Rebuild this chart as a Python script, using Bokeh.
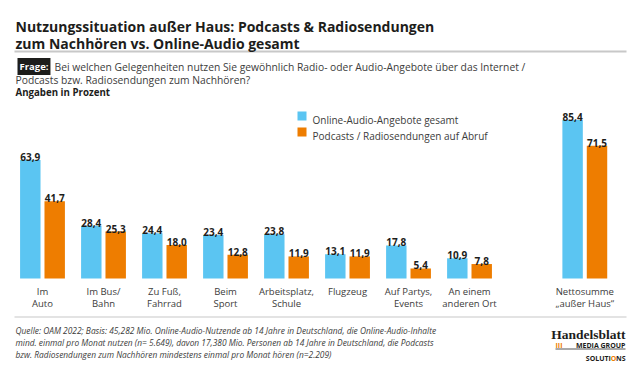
import numpy as np
from bokeh.plotting import figure
from bokeh.models import ColumnDataSource, Range1d, Label, BoxAnnotation
from bokeh.transform import dodge
from bokeh.core.properties import value
from bokeh.embed import file_html
from bokeh.resources import INLINE

# ---------------- data ----------------
categories_line1 = ["Im", "Im Bus/", "Zu Fuß,", "Beim", "Arbeitsplatz,", "Flugzeug",
                    "Auf Partys,", "An einem", "Nettosumme"]
categories_line2 = ["Auto", "Bahn", "Fahrrad", "Sport", "Schule", "",
                    "Events", "anderen Ort", "„außer Haus“"]
online_audio = [63.9, 28.4, 24.4, 23.4, 23.8, 13.1, 17.8, 10.9, 85.4]
podcasts = [41.7, 25.3, 18.0, 12.8, 11.9, 11.9, 5.4, 7.8, 71.5]
series_names = ["Online-Audio-Angebote gesamt", "Podcasts / Radiosendungen auf Abruf"]

title_lines = ["Nutzungssituation außer Haus: Podcasts & Radiosendungen",
               "zum Nachhören vs. Online-Audio gesamt"]
question_lines = ["Bei welchen Gelegenheiten nutzen Sie gewöhnlich Radio- oder Audio-Angebote über das Internet /",
                  "Podcasts bzw. Radiosendungen zum Nachhören?"]
unit_text = "Angaben in Prozent"
source_lines = ["Quelle: OAM 2022; Basis: 45,282 Mio. Online-Audio-Nutzende ab 14 Jahre in Deutschland, die Online-Audio-Inhalte",
                "mind. einmal pro Monat nutzen (n= 5.649), davon 17,380 Mio. Personen ab 14 Jahre in Deutschland, die Podcasts",
                "bzw. Radiosendungen zum Nachhören mindestens einmal pro Monat hören (n=2.209)"]

# ---------------- style ----------------
BLUE = "#5BC5F2"
ORANGE = "#EE7D00"
DARK = "#1d1d1b"
TEXT = "#3c3c3b"
GREY = "#c8c8c8"
FONT = "Open Sans"
NET_GAP = 0.89

W, H = 640, 374

def fmt(v):
    return f"{v:.1f}".replace(".", ",")

xpos = np.arange(len(online_audio), dtype=float)
xpos[-1] += NET_GAP

src = ColumnDataSource(dict(
    x=xpos,
    online=online_audio,
    pod=podcasts,
    online_lbl=[fmt(v) for v in online_audio],
    pod_lbl=[fmt(v) for v in podcasts],
    c1=categories_line1,
    c2=categories_line2,
    zero=[0] * len(online_audio),
))

p = figure(width=W, height=H, output_backend="svg", toolbar_location=None,
           title=None, x_axis_type=None, y_axis_type=None,
           x_range=Range1d(-0.6885, 9.803), y_range=Range1d(-51.75, 149.87),
           min_border=0, min_border_left=0, min_border_right=0,
           min_border_top=0, min_border_bottom=0)
p.outline_line_color = None
p.background_fill_color = "white"
p.border_fill_color = "white"

BW = 0.335
p.vbar(x=dodge("x", -0.2, range=p.x_range), top="online", bottom=0, width=BW,
       source=src, fill_color=BLUE, line_color=None)
p.vbar(x=dodge("x", 0.2, range=p.x_range), top="pod", bottom=0, width=BW,
       source=src, fill_color=ORANGE, line_color=None)

p.text(x=dodge("x", -0.2, range=p.x_range), y="online", text="online_lbl", source=src,
       text_font=value(FONT), text_font_size="10px", text_font_style="bold",
       text_color=DARK, text_align="center", text_baseline="alphabetic", y_offset=-3)
p.text(x=dodge("x", 0.2, range=p.x_range), y="pod", text="pod_lbl", source=src,
       text_font=value(FONT), text_font_size="10px", text_font_style="bold",
       text_color=DARK, text_align="center", text_baseline="alphabetic", y_offset=-3)

p.text(x="x", y="zero", text="c1", source=src, text_font=value(FONT),
       text_font_size="9.5px", text_color=TEXT, text_align="center",
       text_baseline="alphabetic", y_offset=13)
p.text(x="x", y="zero", text="c2", source=src, text_font=value(FONT),
       text_font_size="9.5px", text_color=TEXT, text_align="center",
       text_baseline="alphabetic", y_offset=25)

# --------- helpers for page-pixel layout of annotations ---------
def lab(text, px, py, size, style="normal", color=TEXT, align="left", font=FONT, bg=None):
    kw = {}
    if bg is not None:
        kw = dict(background_fill_color=bg, background_fill_alpha=1.0, padding=2)
    p.add_layout(Label(x=px, y=H - py, x_units="screen", y_units="screen",
                       text=text, text_font=font, text_font_size=f"{size}px",
                       text_font_style=style, text_color=color, text_align=align,
                       text_baseline="alphabetic", **kw))

def box(x0, y0, x1, y1, color):
    p.add_layout(BoxAnnotation(left=x0, right=x1, top=H - y0, bottom=H - y1,
                               left_units="screen", right_units="screen",
                               top_units="screen", bottom_units="screen",
                               fill_color=color, fill_alpha=1.0, line_color=None,
                               line_alpha=0, level="underlay"))

# title
lab(title_lines[0], 15, 26, 14, "bold", DARK)
lab(title_lines[1], 15, 43, 14, "bold", DARK)
box(14, 50, 626, 52, GREY)

# question
lab("Frage:", 17, 66, 9.5, "bold", "white", bg=DARK)
lab(question_lines[0], 54, 66, 10.3, "normal", TEXT)
lab(question_lines[1], 15, 79, 10.3, "normal", TEXT)
lab(unit_text, 15, 92, 9.7, "bold", DARK)

# legend
box(297, 111, 306, 120, BLUE)
box(297, 127, 306, 136, ORANGE)
lab(series_names[0], 312, 119, 10, "normal", TEXT)
lab(series_names[1], 312, 135, 10, "normal", TEXT)

# footer
box(14, 316, 626, 317, GREY)
lab(source_lines[0], 15, 330, 8.4, "italic", TEXT)
lab(source_lines[1], 15, 342, 8.4, "italic", TEXT)
lab(source_lines[2], 15, 354, 8.4, "italic", TEXT)

# logo
lab("Handelsblatt", 625, 334, 13.5, "bold", DARK, "right", "Liberation Serif")
lab("III", 555, 345, 7, "bold", ORANGE)
lab("MEDIA GROUP", 625, 345, 7, "bold", DARK, "right")
box(555, 348, 625, 349, "#555555")
lab("NS", 625, 358, 7, "bold", DARK, "right")
lab("O", 615.9, 358, 7, "bold", ORANGE, "right")
lab("SOLUTI", 610.4, 358, 7, "bold", DARK, "right")

open("out.html", "w").write(file_html(p, INLINE))
